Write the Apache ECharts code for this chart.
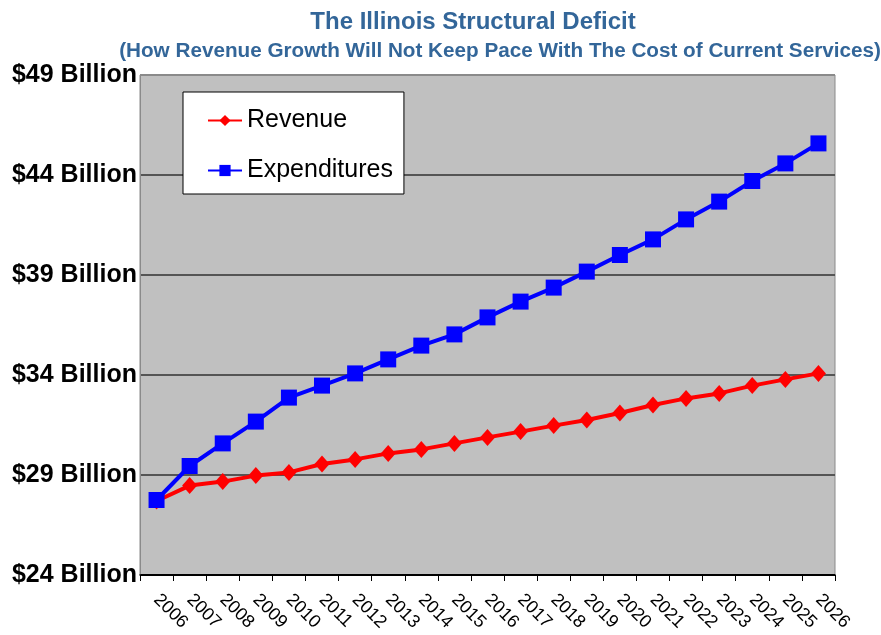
<!DOCTYPE html>
<html>
<head>
<meta charset="utf-8">
<script src="https://cdn.jsdelivr.net/npm/echarts@6/dist/echarts.min.js"></script>
<style>
  html, body { margin: 0; padding: 0; background: #fff; }
</style>
</head>
<body>
<div id="chart" style="width: 881px;height: 635px"></div>
<script>
// 年份 / data (billions of dollars)
var years = ['2006', '2007', '2008', '2009', '2010', '2011', '2012', '2013', '2014', '2015', '2016',
  '2017', '2018', '2019', '2020', '2021', '2022', '2023', '2024', '2025', '2026']
var revenue = [27.7, 28.47, 28.67, 28.97, 29.13, 29.55, 29.78, 30.08, 30.28, 30.58, 30.88,
  31.17, 31.47, 31.75, 32.1, 32.5, 32.83, 33.08, 33.47, 33.78, 34.08]
var expenditures = [27.75, 29.45, 30.58, 31.67, 32.87, 33.47, 34.08, 34.78, 35.47, 36.03, 36.88,
  37.67, 38.37, 39.17, 40.0, 40.78, 41.78, 42.67, 43.7, 44.58, 45.58]
var yMin = 24
var yMax = 49
var yStep = 5

var sans = '"Liberation Sans", Arial, Helvetica, sans-serif'

var myChart = echarts.init(document.getElementById('chart'))
var option = {
  backgroundColor: '#fff',
  animation: false,
  title: [{
    text: 'The Illinois Structural Deficit',
    left: 468,
    textAlign: 'center',
    top: 5,
    textStyle: { fontFamily: sans, fontWeight: 'bold', fontSize: 24, color: '#336699' }
  }, {
    text: '(How Revenue Growth Will Not Keep Pace With The Cost of Current Services)',
    left: 495,
    textAlign: 'center',
    top: 36,
    textStyle: { fontFamily: sans, fontWeight: 'bold', fontSize: 20.7, color: '#336699' }
  }],
  legend: {
    orient: 'vertical',
    left: 183,
    top: 92,
    padding: [16, 11, 11, 24],
    itemGap: 25,
    itemWidth: 34,
    itemHeight: 14,
    backgroundColor: '#fff',
    borderColor: '#000',
    borderWidth: 1,
    borderRadius: 0,
    textStyle: { fontFamily: sans, fontSize: 25, color: '#000' },
    data: ['Revenue', 'Expenditures']
  },
  grid: {
    left: 140,
    right: 46,
    top: 75,
    bottom: 60,
    show: true,
    backgroundColor: '#c0c0c0',
    borderColor: '#8a8a8a',
    borderWidth: 1
  },
  xAxis: {
    type: 'category',
    data: years,
    boundaryGap: true,
    axisLine: { lineStyle: { color: '#000', width: 1.5 } },
    axisTick: { show: true, length: 6, lineStyle: { color: '#000' } },
    axisLabel: {
      rotate: -45,
      interval: 0,
      margin: 22,
      fontFamily: sans,
      fontSize: 18,
      color: '#000'
    }
  },
  yAxis: {
    type: 'value',
    min: yMin,
    max: yMax,
    interval: yStep,
    axisLine: { show: true, lineStyle: { color: '#8a8a8a' } },
    axisTick: { show: false },
    axisLabel: {
      margin: 3,
      fontFamily: sans,
      fontWeight: 'bold',
      fontSize: 25,
      color: '#000',
      formatter: '${value} Billion'
    },
    splitLine: {
      show: true,
      lineStyle: { color: ['#000', '#555', '#555', '#555', '#555', '#8a8a8a'], width: 2 }
    }
  },
  series: [{
    name: 'Revenue',
    type: 'line',
    data: revenue,
    symbol: 'diamond',
    symbolSize: [15, 17],
    color: '#ff0000',
    lineStyle: { width: 4 }
  }, {
    name: 'Expenditures',
    type: 'line',
    data: expenditures,
    symbol: 'rect',
    symbolSize: 16,
    color: '#0000ff',
    lineStyle: { width: 4 }
  }]
}
myChart.setOption(option)
</script>
</body>
</html>
